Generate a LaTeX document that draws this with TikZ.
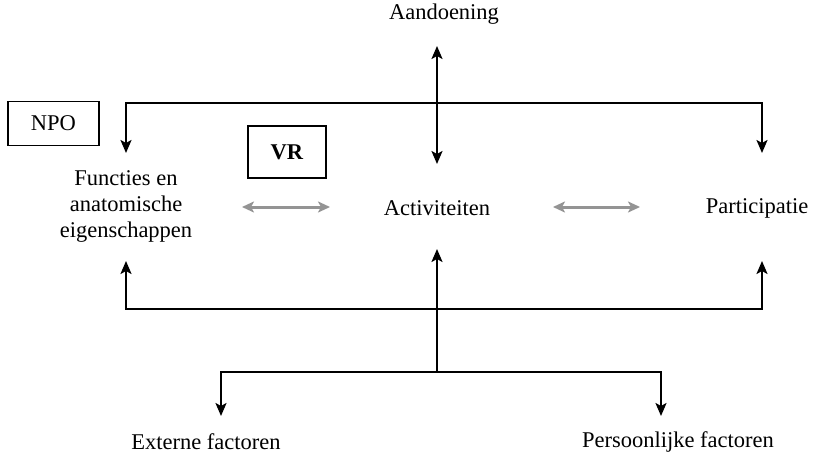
\documentclass[tikz,border=0pt]{standalone}
\usepackage{fontspec}
\setmainfont{Liberation Serif}
\usetikzlibrary{arrows.meta}

\begin{document}
\begin{tikzpicture}[x=1pt,y=-1pt,line width=2.2pt,
    >={Stealth[length=13pt,width=11pt,inset=3pt]},
    label/.style={font=\fontsize{22.5}{26}\selectfont,align=center,inner sep=0},
    box/.style={draw,line width=1.8pt,minimum width=91pt,minimum height=44pt,font=\fontsize{22.5}{26}\selectfont},
    grayarrow/.style={draw=black!42,line width=3pt,<->,>={Stealth[length=12pt,width=11pt,inset=3pt]}}]
    \useasboundingbox (0,0) rectangle (817,460);
    % labels
    \node[label] (aand) at (444,14) {Aandoening};
    \node[label] (func) at (126,206) {Functies en\\anatomische\\eigenschappen};
    \node[label] (act) at (437,208) {Activiteiten};
    \node[label] (part) at (757,208) {Participatie};
    \node[label] (ext) at (206,442) {Externe factoren};
    \node[label] (pers) at (678,442) {Persoonlijke factoren};
    \node[box] (npo) at (53.5,123.5) {NPO};
    \node[box,minimum width=78pt,minimum height=52pt] (vr) at (287,152) {\textbf{VR}};
    % ends of the connectors
    \coordinate (aandtip) at (437,46);
    \coordinate (acttop) at (437,164);
    \coordinate (actbot) at (437,249);
    \coordinate (topjoin) at (437,103);
    \coordinate (functop) at (126,153);
    \coordinate (parttop) at (762,153);
    \coordinate (botjoin) at (437,309);
    \coordinate (funcbot) at (126,261);
    \coordinate (partbot) at (762,261);
    \coordinate (factjoin) at (437,372);
    \coordinate (exttip) at (221,416);
    \coordinate (perstip) at (661,416);
    \coordinate (ga1) at (242,207);
    \coordinate (ga2) at (330,207);
    \coordinate (gb1) at (553,207);
    \coordinate (gb2) at (640,207);
    % connectors
    \draw[<->] (aandtip) -- (acttop);
    \draw[->] (topjoin) -| (functop);
    \draw[->] (topjoin) -| (parttop);
    \draw[->] (botjoin) -| (funcbot);
    \draw[->] (botjoin) -| (partbot);
    \draw[->] (factjoin) -- (actbot);
    \draw[->] (factjoin) -| (exttip);
    \draw[->] (factjoin) -| (perstip);
    \draw[grayarrow] (ga1) -- (ga2);
    \draw[grayarrow] (gb1) -- (gb2);
\end{tikzpicture}
\end{document}
